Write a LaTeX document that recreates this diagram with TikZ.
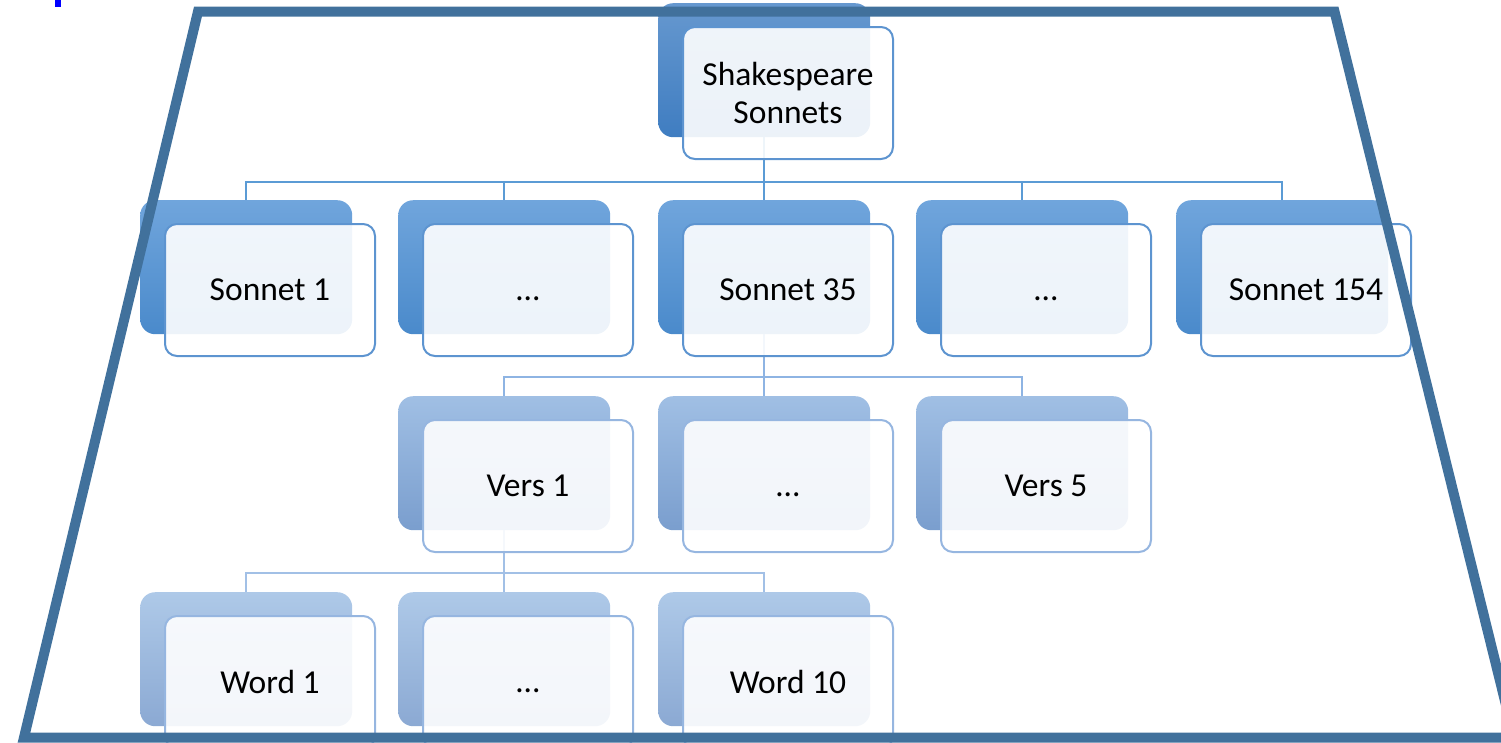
\documentclass[tikz,border=0pt]{standalone}
\usepackage{fontspec}
\setmainfont{Carlito}
\pgfdeclarelayer{background}
\pgfdeclarelayer{foreground}
\pgfsetlayers{background,main,foreground}

% level colours: back card gradient (top/bottom), front card border, connectors
\definecolor{bzt}{HTML}{6698CF}\definecolor{bzb}{HTML}{3F7DC1}
\definecolor{bot}{HTML}{70A5DC}\definecolor{bob}{HTML}{4A8ACB}
\definecolor{btt}{HTML}{A0BFE4}\definecolor{btb}{HTML}{7A9ECE}
\definecolor{bht}{HTML}{AEC9E8}\definecolor{bhb}{HTML}{8BA9D3}
\definecolor{frA}{HTML}{5D94D0}
\definecolor{frB}{HTML}{96B6E0}
\definecolor{lnA}{HTML}{5B9BD5}
\definecolor{lnB}{HTML}{8EB4E3}
\definecolor{lnC}{HTML}{A2C0E6}
\definecolor{frame}{HTML}{41719C}

\tikzset{
  backbox/.style={anchor=north west, minimum width=212pt, minimum height=134pt,
    rounded corners=15pt, inner sep=0pt},
  frontbox/.style={anchor=north west, minimum width=210pt, minimum height=132pt,
    rounded corners=12pt, draw, line width=2pt, fill=white, fill opacity=0.9,
    text opacity=1, align=center, inner sep=0pt, text=black,
    font=\fontsize{33.5}{38}\selectfont},
  lvzero/.style={top color=bzt, bottom color=bzb},
  lvone/.style={top color=bot, bottom color=bob},
  lvtwo/.style={top color=btt, bottom color=btb},
  lvthree/.style={top color=bht, bottom color=bhb},
  edgeA/.style={draw=frA},
  edgeB/.style={draw=frB},
  conn/.style={line width=2pt},
  outline/.style={draw=frame, line width=10pt, line join=miter},
}

% a card: shaded back plate with a lighter framed plate on top carrying the text
% #1 name, #2 x, #3 y, #4 back style, #5 front style, #6 text
\newcommand\twinbox[6]{%
  \node[backbox,#4] (b#1) at (#2,#3) {};
  \node[frontbox,#5] (#1) at ({#2+24},{#3+23}) {#6};}

\begin{document}
\begin{tikzpicture}[x=1pt,y=-1pt]
\useasboundingbox (0,0) rectangle (1501,742);

% small blue mark in the corner
\fill[blue] (55,0) rectangle (61,7);

% cards
\twinbox{top}{658}{3}{lvzero}{edgeA}{Shakespeare\\Sonnets}
\twinbox{s1}{140}{200}{lvone}{edgeA}{Sonnet 1}
\twinbox{s2}{398}{200}{lvone}{edgeA}{\vphantom{S}…}
\twinbox{s3}{658}{200}{lvone}{edgeA}{Sonnet 35}
\twinbox{s4}{916}{200}{lvone}{edgeA}{\vphantom{S}…}
\twinbox{s5}{1176}{200}{lvone}{edgeA}{Sonnet 154}
\twinbox{v1}{398}{396}{lvtwo}{edgeB}{Vers 1}
\twinbox{v2}{658}{396}{lvtwo}{edgeB}{\vphantom{S}…}
\twinbox{v3}{916}{396}{lvtwo}{edgeB}{Vers 5}
\twinbox{w1}{140}{592}{lvthree}{edgeB}{Word 1}
\twinbox{w2}{398}{592}{lvthree}{edgeB}{\vphantom{S}…}
\twinbox{w3}{658}{592}{lvthree}{edgeB}{Word 10}

% tree connectors, behind the cards
\coordinate (busA) at (0,182);
\coordinate (busB) at (0,377);
\coordinate (busC) at (0,573);
\begin{pgfonlayer}{background}
  \foreach \n in {s1,s2,s3,s4,s5}
    \draw[conn, lnA] (btop.south) -- (btop.south |- busA) -| (b\n.north);
  \foreach \n in {v1,v2,v3}
    \draw[conn, lnB] (bs3.south) -- (bs3.south |- busB) -| (b\n.north);
  \foreach \n in {w1,w2,w3}
    \draw[conn, lnC] (bv1.south) -- (bv1.south |- busC) -| (b\n.north);
\end{pgfonlayer}

% trapezoid frame over everything
\begin{pgfonlayer}{foreground}
  \coordinate (tl) at (198,11.5);
  \coordinate (tr) at (1334.5,11.5);
  \coordinate (br) at (1514,737.5);
  \coordinate (bl) at (24,737.5);
  \draw[outline] (tl) -- (tr) -- (br) -- (bl) -- cycle;
\end{pgfonlayer}
\end{tikzpicture}
\end{document}
